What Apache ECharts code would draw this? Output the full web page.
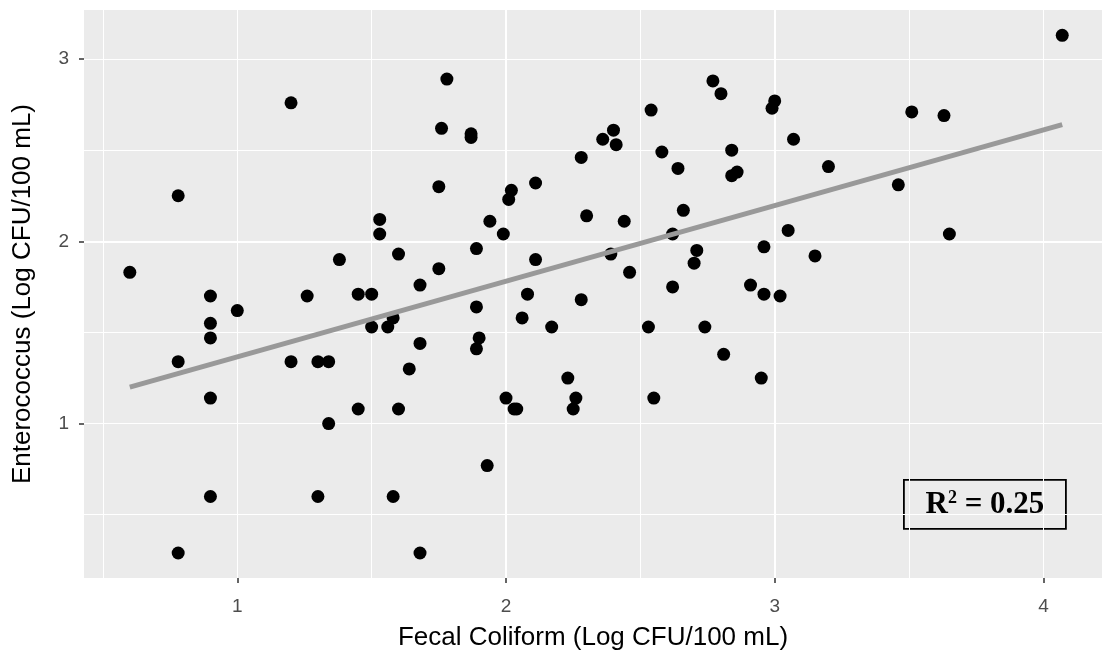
<!DOCTYPE html>
<html>
<head>
<meta charset="utf-8">
<title>Enterococcus vs Fecal Coliform</title>
<script src="https://cdn.jsdelivr.net/npm/echarts@6/dist/echarts.min.js"></script>
<style>
  html, body { margin: 0; padding: 0; background: #ffffff; }
  #chart { width: 1102px; height: 654px; }
</style>
</head>
<body>
<div id="chart"></div>
<script>
// Fecal coliform (x) and enterococcus (y) concentrations, Log CFU/100 mL
const fecalColiform = [
  0.60, 0.78, 0.78, 0.78, 0.90, 0.90, 0.90, 0.90, 0.90, 1.00,
  1.20, 1.20, 1.26, 1.30, 1.34, 1.30, 1.34, 1.38, 1.45, 1.45,
  1.50, 1.50, 1.53, 1.53, 1.56, 1.58, 1.58, 1.60, 1.60, 1.64,
  1.68, 1.68, 1.68, 1.75, 1.75, 1.76, 1.78, 1.87, 1.87, 1.89,
  1.89, 1.90, 1.89, 1.93, 1.94, 1.99, 2.00, 2.01, 2.02, 2.03,
  2.04, 2.06, 2.08, 2.11, 2.11, 2.17, 2.23, 2.25, 2.26, 2.28,
  2.28, 2.30, 2.36, 2.39, 2.40, 2.41, 2.44, 2.46, 2.53, 2.54,
  2.55, 2.58, 2.62, 2.62, 2.64, 2.66, 2.70, 2.71, 2.74, 2.77,
  2.80, 2.81, 2.84, 2.84, 2.86, 2.91, 2.95, 2.96, 2.96, 2.99,
  3.00, 3.02, 3.05, 3.07, 3.15, 3.20, 3.46, 3.51, 3.63, 3.65,
  4.07
];
const enterococcus = [
  1.83, 2.25, 1.34, 0.29, 1.70, 1.55, 1.47, 1.14, 0.60, 1.62,
  2.76, 1.34, 1.70, 1.34, 1.34, 0.60, 1.00, 1.90, 1.71, 1.08,
  1.71, 1.53, 2.12, 2.04, 1.53, 1.58, 0.60, 1.93, 1.08, 1.30,
  1.76, 1.44, 0.29, 2.30, 1.85, 2.62, 2.89, 2.59, 2.57, 1.96,
  1.64, 1.47, 1.41, 0.77, 2.11, 2.04, 1.14, 2.23, 2.28, 1.08,
  1.08, 1.58, 1.71, 2.32, 1.90, 1.53, 1.25, 1.08, 1.14, 2.46,
  1.68, 2.14, 2.56, 1.93, 2.61, 2.53, 2.11, 1.83, 1.53, 2.72,
  1.14, 2.49, 2.04, 1.75, 2.40, 2.17, 1.88, 1.95, 1.53, 2.88,
  2.81, 1.38, 2.50, 2.36, 2.38, 1.76, 1.25, 1.97, 1.71, 2.73,
  2.77, 1.70, 2.06, 2.56, 1.92, 2.41, 2.31, 2.71, 2.69, 2.04,
  3.13
];

// Fitted regression line, drawn across the observed x range
const fitX = [0.60, 4.07];
const fitY = [1.20, 2.64];

const xTicks = [1, 2, 3, 4];
const yTicks = [1, 2, 3];
const rSquared = '0.25';

const points = fecalColiform.map((x, i) => [x, enterococcus[i]]);
const fitLine = fitX.map((x, i) => [x, fitY[i]]);

const panelGrey = '#EBEBEB';
const tickGrey = '#4D4D4D';
const fontFamily = '"Liberation Sans", Arial, sans-serif';

const chart = echarts.init(document.getElementById('chart'), null, { renderer: 'canvas' });

function majorAxis(extra) {
  return Object.assign({
    type: 'value',
    axisLine: { show: false },
    splitLine: {
      show: true, showMinLine: false, showMaxLine: false,
      lineStyle: { color: '#ffffff', width: 2 }
    }
  }, extra);
}

function minorAxis(extra) {
  return Object.assign({
    type: 'value',
    axisLine: { show: false },
    axisTick: { show: false },
    axisLabel: { show: false },
    splitLine: {
      show: true, showMinLine: false, showMaxLine: false,
      lineStyle: { color: '#ffffff', width: 1 }
    }
  }, extra);
}

const xMin = 0.4295, xMax = 4.218;
const yMin = 0.153, yMax = 3.269;

chart.setOption({
  backgroundColor: '#ffffff',
  animation: false,
  grid: {
    left: 84, right: 0, top: 10, bottom: 76,
    outerBoundsMode: 'none',
    containLabel: false,
    show: true, backgroundColor: panelGrey, borderWidth: 0
  },
  xAxis: [
    minorAxis({ min: xMin, max: xMax, splitNumber: 8, position: 'bottom' }),
    majorAxis({
      min: xMin, max: xMax, splitNumber: 4, position: 'bottom',
      name: 'Fecal Coliform (Log CFU/100 mL)',
      nameLocation: 'middle', nameGap: 47,
      nameTextStyle: { color: '#000000', fontSize: 26, fontFamily: fontFamily },
      axisTick: {
        show: true, length: 5, customValues: xTicks,
        lineStyle: { color: '#333333', width: 1.5 }
      },
      axisLabel: {
        color: tickGrey, fontSize: 19, fontFamily: fontFamily,
        margin: 19, customValues: xTicks
      }
    })
  ],
  yAxis: [
    minorAxis({ min: yMin, max: yMax, splitNumber: 6, position: 'left' }),
    majorAxis({
      min: yMin, max: yMax, splitNumber: 3, position: 'left',
      name: 'Enterococcus (Log CFU/100 mL)',
      nameLocation: 'middle', nameGap: 48,
      nameTextStyle: { color: '#000000', fontSize: 26, fontFamily: fontFamily },
      axisTick: {
        show: true, length: 5, customValues: yTicks,
        lineStyle: { color: '#333333', width: 1.5 }
      },
      axisLabel: {
        color: tickGrey, fontSize: 19, fontFamily: fontFamily,
        margin: 15, customValues: yTicks
      }
    })
  ],
  series: [
    {
      type: 'scatter',
      xAxisIndex: 1, yAxisIndex: 1,
      data: points,
      symbol: 'circle',
      symbolSize: 13,
      itemStyle: { color: '#000000', opacity: 1 },
      z: 2
    },
    {
      type: 'line',
      xAxisIndex: 1, yAxisIndex: 1,
      data: fitLine,
      showSymbol: false,
      symbol: 'none',
      lineStyle: { color: '#999999', width: 5, opacity: 1 },
      z: 3
    }
  ],
  graphic: [
    {
      type: 'group',
      left: 903, top: 479,
      children: [
        {
          type: 'rect',
          shape: { x: 0, y: 0, width: 162, height: 49 },
          style: { fill: panelGrey, stroke: '#000000', lineWidth: 1.8 }
        },
        {
          type: 'text',
          x: 81, y: 25,
          style: {
            text: '{b|R}{s|2}{b| = ' + rSquared + '}',
            align: 'center', verticalAlign: 'middle',
            rich: {
              b: { fontFamily: '"Liberation Serif", "Times New Roman", serif', fontWeight: 'bold', fontSize: 31, fill: '#000000' },
              s: { fontFamily: '"Liberation Serif", "Times New Roman", serif', fontWeight: 'bold', fontSize: 18, fill: '#000000', verticalAlign: 'top', padding: [0, 0, 14, 0] }
            }
          }
        }
      ]
    }
  ]
});
</script>
</body>
</html>
